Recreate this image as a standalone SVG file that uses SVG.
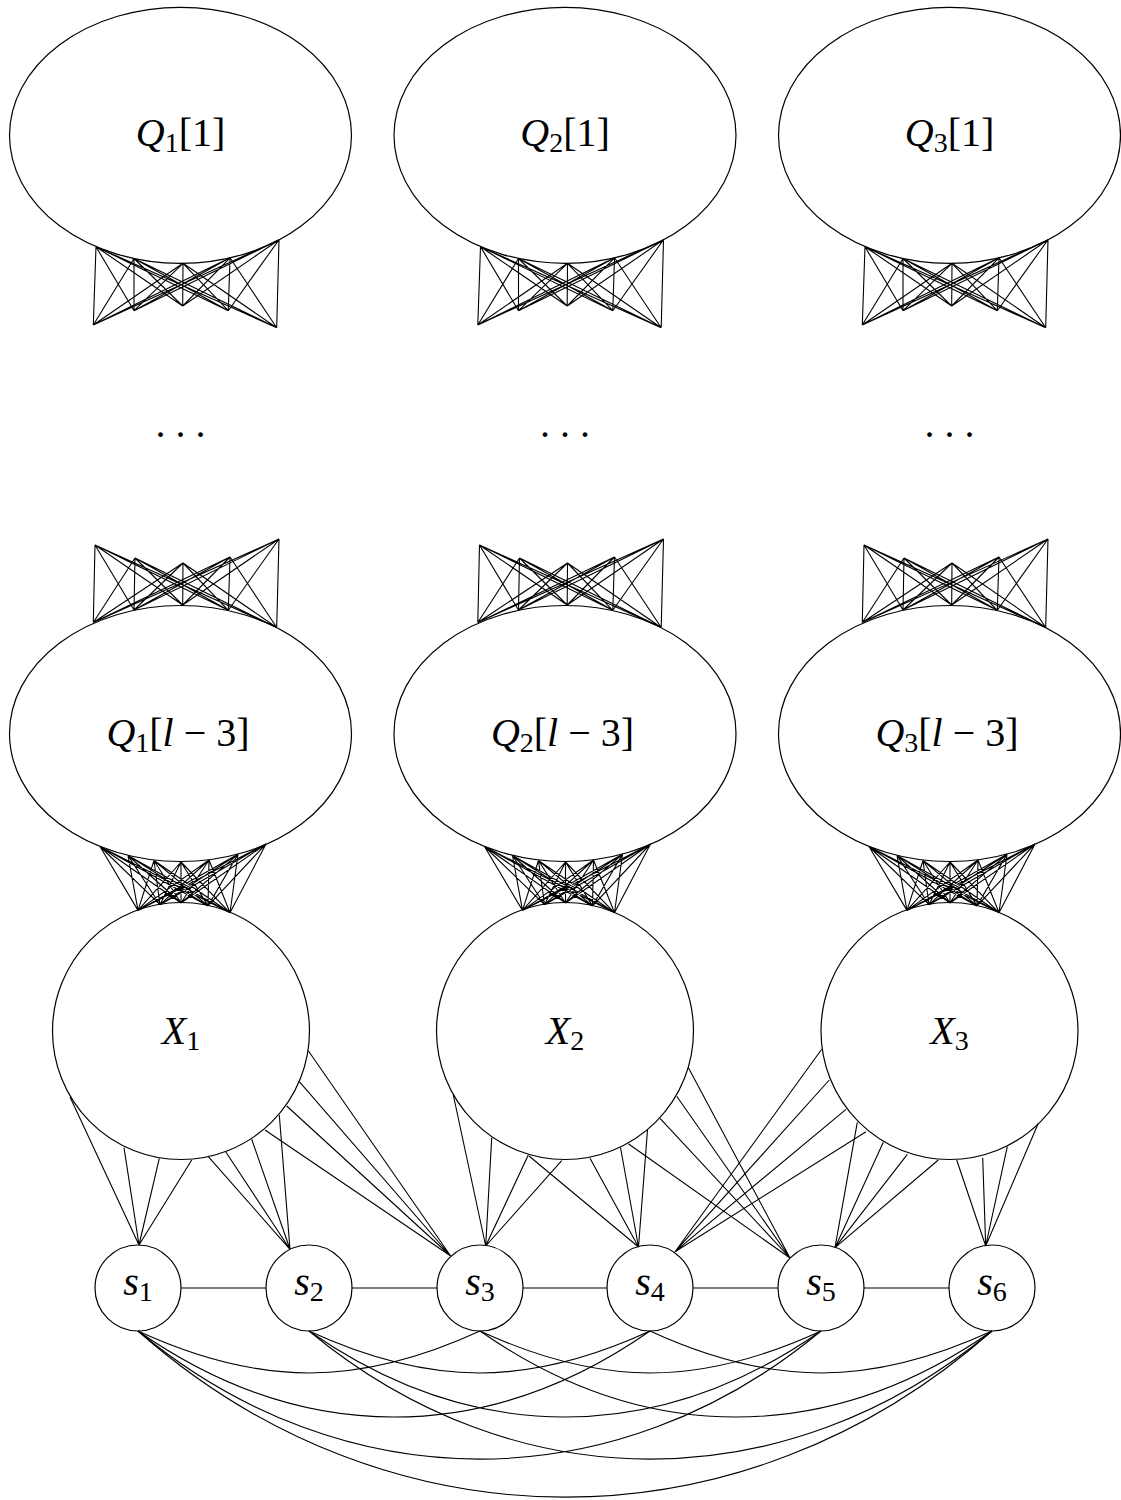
<svg xmlns="http://www.w3.org/2000/svg" xmlns:xlink="http://www.w3.org/1999/xlink" width="1121" height="1500" viewBox="0 0 1121 1500">
<style>
.shape{fill:#fff;stroke:#000;stroke-width:1.2}
.edge{fill:none;stroke:#000;stroke-width:1.1}
.lbl{font-family:"Liberation Serif","Times New Roman",serif;font-size:40px;fill:#000;text-anchor:middle}
.it{font-style:italic}
.sub{font-size:28px}
</style>
<defs>
<path id="kTop" class="edge" d="M96 246.7L93.3 325M96 246.7L134 310.7M96 246.7L182.7 306M96 246.7L228.3 310.7M96 246.7L276.7 327.7M134 258.5L93.3 325M134 258.5L134 310.7M134 258.5L182.7 306M134 258.5L228.3 310.7M134 258.5L276.7 327.7M183 263.3L93.3 325M183 263.3L134 310.7M183 263.3L182.7 306M183 263.3L228.3 310.7M183 263.3L276.7 327.7M230 257.8L93.3 325M230 257.8L134 310.7M230 257.8L182.7 306M230 257.8L228.3 310.7M230 257.8L276.7 327.7M279 239.8L93.3 325M279 239.8L134 310.7M279 239.8L182.7 306M279 239.8L228.3 310.7M279 239.8L276.7 327.7"/>
<path id="kMid" class="edge" d="M95 545L93.3 622.5M95 545L134 610M95 545L182.7 605M95 545L228.3 610.3M95 545L276.7 627.5M135 558L93.3 622.5M135 558L134 610M135 558L182.7 605M135 558L228.3 610.3M135 558L276.7 627.5M183 563L93.3 622.5M183 563L134 610M183 563L182.7 605M183 563L228.3 610.3M183 563L276.7 627.5M230 557L93.3 622.5M230 557L134 610M230 557L182.7 605M230 557L228.3 610.3M230 557L276.7 627.5M279 539L93.3 622.5M279 539L134 610M279 539L182.7 605M279 539L228.3 610.3M279 539L276.7 627.5"/>
<path id="kBot" class="edge" d="M100 846.5L138 910.4M100 846.5L160 904.7M100 846.5L181 903M100 846.5L208 905.9M100 846.5L230 912.8M128 855.5L138 910.4M128 855.5L160 904.7M128 855.5L181 903M128 855.5L208 905.9M128 855.5L230 912.8M154 860.5L138 910.4M154 860.5L160 904.7M154 860.5L181 903M154 860.5L208 905.9M154 860.5L230 912.8M181 862L138 910.4M181 862L160 904.7M181 862L181 903M181 862L208 905.9M181 862L230 912.8M209 860L138 910.4M209 860L160 904.7M209 860L181 903M209 860L208 905.9M209 860L230 912.8M238 854.3L138 910.4M238 854.3L160 904.7M238 854.3L181 903M238 854.3L208 905.9M238 854.3L230 912.8M266 844L138 910.4M266 844L160 904.7M266 844L181 903M266 844L208 905.9M266 844L230 912.8"/>
</defs>

<g id="Q1_1"><ellipse class="shape" cx="180.5" cy="135.3" rx="171" ry="128"/><text class="lbl" x="180.5" y="146"><tspan class="it">Q</tspan><tspan class="sub" dy="6">1</tspan><tspan dy="-6">[1]</tspan></text></g>
<g id="Q2_1"><ellipse class="shape" cx="565" cy="135.3" rx="171" ry="128"/><text class="lbl" x="565" y="146"><tspan class="it">Q</tspan><tspan class="sub" dy="6">2</tspan><tspan dy="-6">[1]</tspan></text></g>
<g id="Q3_1"><ellipse class="shape" cx="949.5" cy="135.3" rx="171" ry="128"/><text class="lbl" x="949.5" y="146"><tspan class="it">Q</tspan><tspan class="sub" dy="6">3</tspan><tspan dy="-6">[1]</tspan></text></g>

<g id="dots1"><text class="lbl" x="180.5" y="437">. . .</text></g>
<g id="dots2"><text class="lbl" x="565" y="437">. . .</text></g>
<g id="dots3"><text class="lbl" x="949.5" y="437">. . .</text></g>

<g id="Q1_l3"><ellipse class="shape" cx="180.5" cy="733.5" rx="171" ry="128"/><text class="lbl" x="178" y="746"><tspan class="it">Q</tspan><tspan class="sub" dy="6">1</tspan><tspan dy="-6">[</tspan><tspan class="it">l</tspan><tspan> − 3]</tspan></text></g>
<g id="Q2_l3"><ellipse class="shape" cx="565" cy="733.5" rx="171" ry="128"/><text class="lbl" x="562.5" y="746"><tspan class="it">Q</tspan><tspan class="sub" dy="6">2</tspan><tspan dy="-6">[</tspan><tspan class="it">l</tspan><tspan> − 3]</tspan></text></g>
<g id="Q3_l3"><ellipse class="shape" cx="949.5" cy="733.5" rx="171" ry="128"/><text class="lbl" x="947" y="746"><tspan class="it">Q</tspan><tspan class="sub" dy="6">3</tspan><tspan dy="-6">[</tspan><tspan class="it">l</tspan><tspan> − 3]</tspan></text></g>

<g id="X1"><circle class="shape" cx="181" cy="1031" r="128.5"/><text class="lbl" x="181" y="1044"><tspan class="it">X</tspan><tspan class="sub" dy="6">1</tspan></text></g>
<g id="X2"><circle class="shape" cx="565" cy="1031" r="128.5"/><text class="lbl" x="565" y="1044"><tspan class="it">X</tspan><tspan class="sub" dy="6">2</tspan></text></g>
<g id="X3"><circle class="shape" cx="949.5" cy="1031" r="128.5"/><text class="lbl" x="949.5" y="1044"><tspan class="it">X</tspan><tspan class="sub" dy="6">3</tspan></text></g>

<g id="s1"><circle class="shape" cx="138" cy="1288" r="43"/><text class="lbl" x="138" y="1295"><tspan class="it">s</tspan><tspan class="sub" dy="6">1</tspan></text></g>
<g id="s2"><circle class="shape" cx="309" cy="1288" r="43"/><text class="lbl" x="309" y="1295"><tspan class="it">s</tspan><tspan class="sub" dy="6">2</tspan></text></g>
<g id="s3"><circle class="shape" cx="480" cy="1288" r="43"/><text class="lbl" x="480" y="1295"><tspan class="it">s</tspan><tspan class="sub" dy="6">3</tspan></text></g>
<g id="s4"><circle class="shape" cx="650" cy="1288" r="43"/><text class="lbl" x="650" y="1295"><tspan class="it">s</tspan><tspan class="sub" dy="6">4</tspan></text></g>
<g id="s5"><circle class="shape" cx="821" cy="1288" r="43"/><text class="lbl" x="821" y="1295"><tspan class="it">s</tspan><tspan class="sub" dy="6">5</tspan></text></g>
<g id="s6"><circle class="shape" cx="992" cy="1288" r="43"/><text class="lbl" x="992" y="1295"><tspan class="it">s</tspan><tspan class="sub" dy="6">6</tspan></text></g>

<g id="connectors">
<use xlink:href="#kTop"/><use xlink:href="#kTop" transform="translate(384.5,0)"/><use xlink:href="#kTop" transform="translate(769,0)"/>
<use xlink:href="#kMid"/><use xlink:href="#kMid" transform="translate(384.5,0)"/><use xlink:href="#kMid" transform="translate(769,0)"/>
<use xlink:href="#kBot"/><use xlink:href="#kBot" transform="translate(384.5,0)"/><use xlink:href="#kBot" transform="translate(769,0)"/>
<path class="edge" d="M70 1097L139 1245M124 1147.7L139 1245M159.3 1158.3L139 1245M191.7 1160L139 1245"/>
<path class="edge" d="M208.3 1156.7L290 1249.3M225.7 1151.7L290 1249.3M251.7 1139.3L290 1249.3M279.3 1115L290 1249.3"/>
<path class="edge" d="M265 1130L450.7 1256M286.7 1106L450.7 1256M299.3 1081.7L450.7 1256M308.3 1050.7L450.7 1256"/>
<path class="edge" d="M453.3 1095L485.7 1246M491.7 1137.7L485.7 1246M528.3 1155L485.7 1246M561.7 1160.7L485.7 1246"/>
<path class="edge" d="M529 1156L638.5 1247M590 1158.3L638.5 1247M620.5 1147.5L638.5 1247M647.5 1130L638.5 1247"/>
<path class="edge" d="M628.3 1143.7L790 1258M660 1118.3L790 1258M676.7 1096.3L790 1258M688.3 1067.5L790 1258"/>
<path class="edge" d="M821.7 1049.3L675 1251.7M829.3 1080L675 1251.7M846 1109.3L675 1251.7M866 1131.7L675 1251.7"/>
<path class="edge" d="M857.3 1122.3L835 1247.7M883.3 1142.3L835 1247.7M907.3 1154.3L835 1247.7M938.3 1160L835 1247.7"/>
<path class="edge" d="M956.7 1160L985.7 1246M982.7 1157.7L985.7 1246M1007.3 1146.7L985.7 1246M1038.3 1123.3L985.7 1246"/>
<path class="edge" d="M181 1288H266M352 1288H437M523 1288H607M693 1288H778M864 1288H949"/>
<path class="edge" d="M138 1331C259.5 1386.9 358.5 1386.9 480 1331M309 1331C430.5 1386.9 528.5 1386.9 650 1331M480 1331C601.5 1386.9 699.5 1386.9 821 1331M650 1331C771.5 1386.9 870.5 1386.9 992 1331"/>
<path class="edge" d="M138 1331C302.4 1445.7 485.6 1445.7 650 1331M309 1331C473.4 1445.7 656.6 1445.7 821 1331M480 1331C644.4 1445.7 827.6 1445.7 992 1331"/>
<path class="edge" d="M138 1331C343.7 1501.8 615.3 1501.8 821 1331M309 1331C514.7 1501.8 786.3 1501.8 992 1331"/>
<path class="edge" d="M138 1331C388.4 1552.5 741.6 1552.5 992 1331"/>
</g>
</svg>
